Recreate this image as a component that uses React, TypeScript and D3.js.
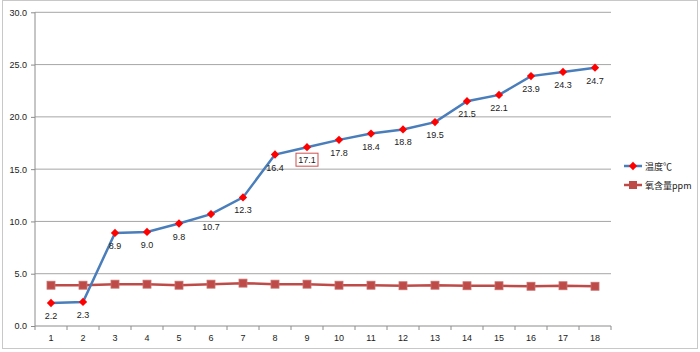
import * as d3 from "d3";
import { useEffect, useRef } from "react";

// catégories (jours) et séries
const days = ["1", "2", "3", "4", "5", "6", "7", "8", "9", "10", "11", "12", "13", "14", "15", "16", "17", "18"];
const temperature = [2.2, 2.3, 8.9, 9.0, 9.8, 10.7, 12.3, 16.4, 17.1, 17.8, 18.4, 18.8, 19.5, 21.5, 22.1, 23.9, 24.3, 24.7];
const oxygen = [3.9, 3.9, 4.0, 4.0, 3.9, 4.0, 4.1, 4.0, 4.0, 3.9, 3.9, 3.85, 3.9, 3.85, 3.85, 3.8, 3.85, 3.8];
const yTicks = [0, 5, 10, 15, 20, 25, 30];
const seriesNames = ["温度℃", "氧含量ppm"];
const boxedIndex = 8;

const BLUE = "#4A7EBB";
const RED = "#BE4B48";

const App = () => {
	const svgRef = useRef<SVGSVGElement>(null);

	useEffect(() => {
		if (!svgRef.current) return;
		const width = 700;
		const height = 352;
		const margin = { top: 12.3, left: 35, right: 89, bottom: 26 };

		const svg = d3.select(svgRef.current);
		svg.selectAll("*").remove();

		const font = "'Liberation Sans', Arial, sans-serif";

		// cadre extérieur
		svg.append("rect")
			.attr("x", 2.5).attr("y", 0.5)
			.attr("width", 695).attr("height", 348)
			.attr("fill", "#fff")
			.attr("stroke", "#c8c8c8");

		const x = d3.scaleBand().domain(days).range([margin.left, width - margin.right]);
		const y = d3.scaleLinear().domain([0, 30]).range([height - margin.bottom, margin.top]);
		const cx = (i: number) => (x(days[i]) ?? 0) + x.bandwidth() / 2;

		// grille horizontale
		svg.append("g")
			.selectAll("line")
			.data(yTicks.slice(1))
			.join("line")
			.attr("x1", margin.left).attr("x2", width - margin.right)
			.attr("y1", (d) => y(d)).attr("y2", (d) => y(d))
			.attr("stroke", "#a6a6a6").attr("stroke-width", 1);

		// axe y
		const yAxis = svg.append("g")
			.attr("transform", `translate(${margin.left},0)`)
			.call(d3.axisLeft(y).tickValues(yTicks).tickFormat(d3.format(".1f")).tickSize(4).tickPadding(4));
		yAxis.select(".domain").attr("stroke", "#8c8c8c").attr("d", `M0,${y(30)}V${y(0)}`);
		yAxis.selectAll(".tick line").attr("stroke", "#8c8c8c");
		yAxis.selectAll(".tick text").attr("font-size", 9).attr("font-family", font).attr("fill", "#222");

		// axe x (graduations entre les catégories)
		const xAxisG = svg.append("g").attr("transform", `translate(0,${y(0)})`);
		xAxisG.append("line")
			.attr("x1", margin.left).attr("x2", width - margin.right)
			.attr("stroke", "#8c8c8c");
		xAxisG.selectAll("line.tick")
			.data(d3.range(days.length + 1))
			.join("line")
			.attr("class", "tick")
			.attr("x1", (i) => margin.left + i * x.step())
			.attr("x2", (i) => margin.left + i * x.step())
			.attr("y1", 0).attr("y2", 4)
			.attr("stroke", "#8c8c8c");
		xAxisG.selectAll("text")
			.data(days)
			.join("text")
			.attr("x", (_, i) => cx(i))
			.attr("y", 15)
			.attr("text-anchor", "middle")
			.attr("font-size", 9)
			.attr("font-family", font)
			.attr("fill", "#222")
			.text((d) => d);

		const line = d3.line<number>().x((_, i) => cx(i)).y((d) => y(d));

		// série oxygène
		svg.append("path")
			.datum(oxygen)
			.attr("d", line)
			.attr("fill", "none")
			.attr("stroke", RED)
			.attr("stroke-width", 2.5);
		svg.append("g")
			.selectAll("rect")
			.data(oxygen)
			.join("rect")
			.attr("x", (_, i) => cx(i) - 4)
			.attr("y", (d) => y(d) - 4)
			.attr("width", 8).attr("height", 8)
			.attr("fill", RED)
			.attr("stroke", "#c9706e").attr("stroke-width", 0.8);

		// série température
		svg.append("path")
			.datum(temperature)
			.attr("d", line)
			.attr("fill", "none")
			.attr("stroke", BLUE)
			.attr("stroke-width", 2.5);
		const diamond = d3.symbol(d3.symbolDiamond2, 44);
		svg.append("g")
			.selectAll("path")
			.data(temperature)
			.join("path")
			.attr("transform", (d, i) => `translate(${cx(i)},${y(d)})`)
			.attr("d", diamond)
			.attr("fill", "#ff0000");

		// étiquettes de données
		const labels = svg.append("g");
		labels.selectAll("text")
			.data(temperature)
			.join("text")
			.attr("x", (_, i) => cx(i))
			.attr("y", (d) => y(d) + 16)
			.attr("text-anchor", "middle")
			.attr("font-size", 9)
			.attr("font-family", font)
			.attr("fill", "#222")
			.text((d) => d.toFixed(1));
		labels.append("rect")
			.attr("x", cx(boxedIndex) - 11)
			.attr("y", y(temperature[boxedIndex]) + 6)
			.attr("width", 22).attr("height", 13)
			.attr("fill", "none")
			.attr("stroke", "#d05050");

		// légende
		const legend = svg.append("g").attr("transform", "translate(624,0)");
		[BLUE, RED].forEach((color, i) => {
			const ly = 166 + i * 19;
			legend.append("line")
				.attr("x1", 0).attr("x2", 18)
				.attr("y1", ly).attr("y2", ly)
				.attr("stroke", color).attr("stroke-width", 2.5);
			if (i === 0) {
				legend.append("path")
					.attr("transform", `translate(9,${ly})`)
					.attr("d", diamond)
					.attr("fill", "#ff0000");
			} else {
				legend.append("rect")
					.attr("x", 5).attr("y", ly - 4)
					.attr("width", 8).attr("height", 8)
					.attr("fill", RED);
			}
			legend.append("text")
				.attr("x", 21)
				.attr("y", ly + 3.5)
				.attr("font-size", 9)
				.attr("font-family", "'Noto Sans CJK SC', 'Liberation Sans', sans-serif")
				.attr("fill", "#222")
				.text(seriesNames[i]);
		});
	}, []);

	return (
		<svg
			ref={svgRef}
			width={700}
			height={352}
			style={{ position: "absolute", left: 0, top: 0, background: "#fff" }}
		></svg>
	);
};

export default App;
